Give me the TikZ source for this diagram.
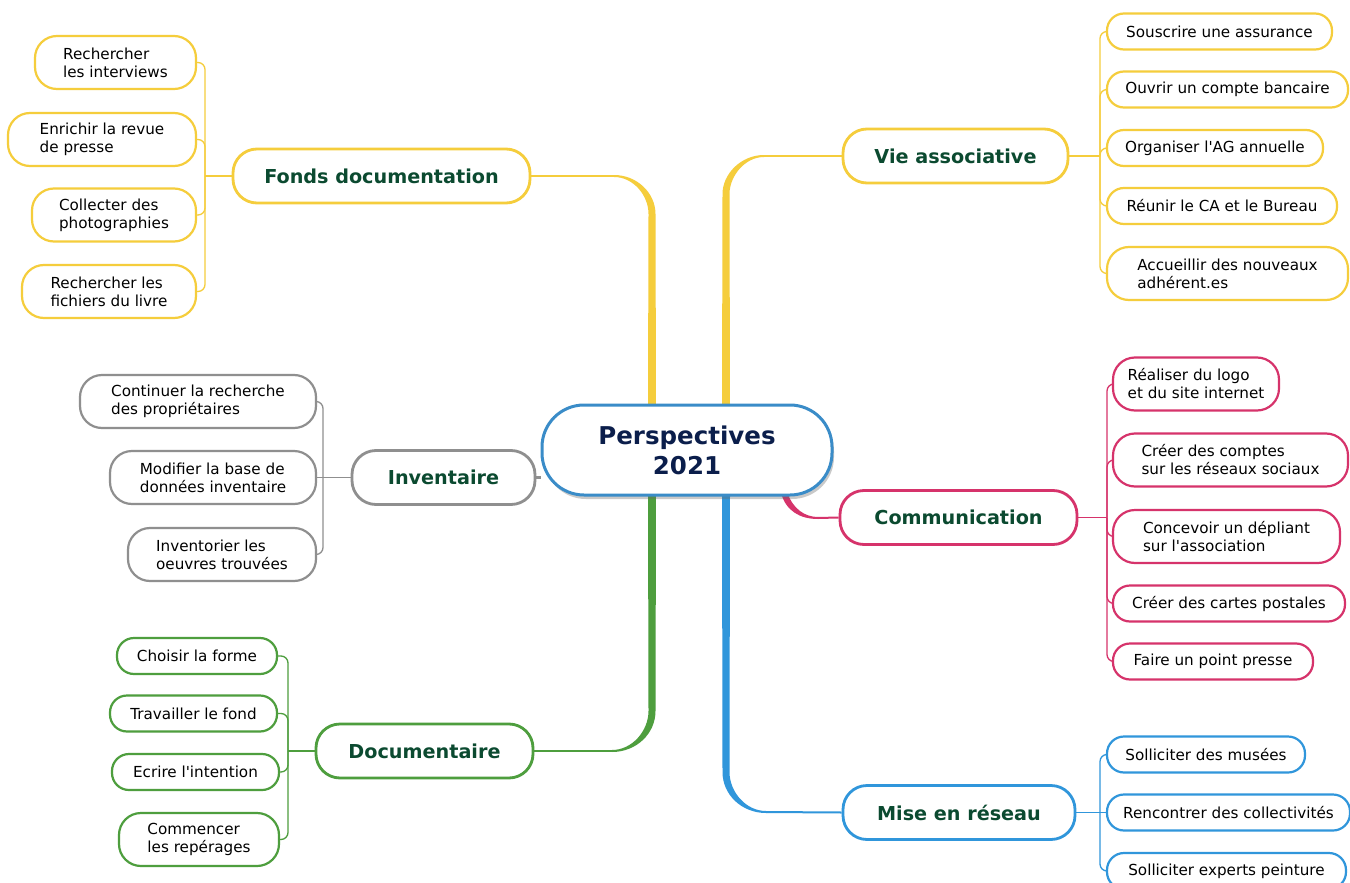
\documentclass[tikz,border=0pt]{standalone}
\usepackage{fontspec}
\setmainfont{DejaVu Sans}
\usetikzlibrary{shadows,backgrounds}
\definecolor{cyel}{HTML}{F5CD3C}
\definecolor{cgray}{HTML}{8F8F8F}
\definecolor{ccrim}{HTML}{D6336B}
\definecolor{cgreen}{HTML}{4E9E3E}
\definecolor{cblue}{HTML}{3096DB}
\definecolor{ccenter}{HTML}{3A8CC8}
\definecolor{ctopic}{HTML}{0B4A30}
\definecolor{cnavy}{HTML}{0B1E4B}
\begin{document}
\begin{tikzpicture}[x=1pt,y=-1pt,
  leaf/.style={draw, fill=white, line width=2.2pt, rounded corners=17pt, minimum height=36pt, inner sep=0pt, font=\fontsize{15.2}{18}\selectfont, align=center},
  leaftwo/.style={leaf, minimum height=53pt, rounded corners=22pt, align=left},
  topic/.style={draw, fill=white, line width=2.8pt, rounded corners=24pt, minimum height=54pt, inner sep=0pt, font=\fontsize{19.2}{22}\selectfont\bfseries, text=ctopic},
  twig/.style={line width=1.3pt, rounded corners=7pt},
  stem/.style={line width=2pt},
]
\useasboundingbox (0,0) rectangle (1350,883);

% centre
\node[draw=ccenter, fill=white, line width=3pt, rounded corners=42pt, minimum width=290pt, minimum height=90pt, inner sep=0pt,
  font=\fontsize{24.5}{30}\selectfont\bfseries, text=cnavy, align=center,
  drop shadow={shadow xshift=2pt, shadow yshift=-4pt, opacity=0.35, fill=black!60}] (c) at (687,450) {Perspectives\\2021};

% topics
\node[topic, draw=cyel, minimum width=297pt] (fonds) at (381.5,176) {Fonds documentation};
\node[topic, draw=cyel, minimum width=225pt] (vie) at (955.5,156) {Vie associative};
\node[topic, draw=cgray, minimum width=183pt] (inv) at (443.5,477.5) {Inventaire};
\node[topic, draw=ccrim, minimum width=237pt] (comm) at (958.5,517.5) {Communication};
\node[topic, draw=cgreen, minimum width=217pt] (doc) at (424.5,751) {Documentaire};
\node[topic, draw=cblue, minimum width=232pt] (mise) at (959,812.5) {Mise en réseau};

% Fonds documentation leaves
\node[leaftwo, draw=cyel, minimum width=161pt] (f1) at (115.5,62.5) {Rechercher\\les interviews};
\node[leaftwo, draw=cyel, minimum width=188pt] (f2) at (102,139.5) {Enrichir la revue\\de presse};
\node[leaftwo, draw=cyel, minimum width=164pt] (f3) at (114,215) {Collecter des\\photographies};
\node[leaftwo, draw=cyel, minimum width=174pt] (f4) at (109,291.5) {Rechercher les\\fichiers du livre};

% Vie associative leaves
\node[leaf, draw=cyel, minimum width=225pt] (v1) at (1219.5,31.5) {Souscrire une assurance};
\node[leaf, draw=cyel, minimum width=241pt] (v2) at (1227.5,89.5) {Ouvrir un compte bancaire};
\node[leaf, draw=cyel, minimum width=216pt] (v3) at (1215,148) {Organiser l\textquotesingle AG annuelle};
\node[leaf, draw=cyel, minimum width=230pt] (v4) at (1222,206) {Réunir le CA et le Bureau};
\node[leaftwo, draw=cyel, minimum width=241pt] (v5) at (1227.5,273.5) {Accueillir des nouveaux\\adhérent.es};

% Inventaire leaves
\node[leaftwo, draw=cgray, minimum width=236pt] (i1) at (198,401.5) {Continuer la recherche\\des propriétaires};
\node[leaftwo, draw=cgray, minimum width=206pt] (i2) at (213,477.5) {Modifier la base de\\données inventaire};
\node[leaftwo, draw=cgray, minimum width=188pt] (i3) at (222,554.5) {Inventorier les\\oeuvres trouvées};

% Communication leaves
\node[leaftwo, draw=ccrim, minimum width=166pt] (c1) at (1196,384) {Réaliser du logo\\et du site internet};
\node[leaftwo, draw=ccrim, minimum width=235pt] (c2) at (1230.5,460) {Créer des comptes\\sur les réseaux sociaux};
\node[leaftwo, draw=ccrim, minimum width=227pt] (c3) at (1226.5,536.5) {Concevoir un dépliant\\sur l\textquotesingle association};
\node[leaf, draw=ccrim, minimum width=232pt] (c4) at (1229,603.5) {Créer des cartes postales};
\node[leaf, draw=ccrim, minimum width=200pt] (c5) at (1213,661.5) {Faire un point presse};

% Documentaire leaves
\node[leaf, draw=cgreen, minimum width=160pt] (d1) at (197,656) {Choisir la forme};
\node[leaf, draw=cgreen, minimum width=167pt] (d2) at (193.5,713.5) {Travailler le fond};
\node[leaf, draw=cgreen, minimum width=167pt] (d3) at (195.5,772) {Ecrire l\textquotesingle intention};
\node[leaftwo, draw=cgreen, minimum width=160pt] (d4) at (199,839.5) {Commencer\\les repérages};

% Mise en reseau leaves
\node[leaf, draw=cblue, minimum width=198pt] (m1) at (1206,754.5) {Solliciter des musées};
\node[leaf, draw=cblue, minimum width=243pt] (m2) at (1228.5,812.5) {Rencontrer des collectivités};
\node[leaf, draw=cblue, minimum width=239pt] (m3) at (1226.5,871) {Solliciter experts peinture};

% trunk points
\coordinate (tF) at (205,176);
\coordinate (tV) at (1100,156);
\coordinate (tI) at (323,477.5);
\coordinate (tC) at (1107,517.5);
\coordinate (tD) at (288,751);
\coordinate (tM) at (1100,812.5);
% where the thin stems meet the tapered branches
\coordinate (sYL) at (614,176);
\coordinate (sYR) at (764,156);
\coordinate (sGL) at (612,751);
\coordinate (sBR) at (766,812);
\coordinate (sCR) at (818,518);

\begin{pgfonlayer}{background}
\fill[white] (0,0) rectangle (1350,883);
% thin stems from topics
\draw[stem, cyel] (fonds.east) -- (sYL);
\draw[stem, cyel] (vie.west) -- (sYR);
\draw[stem, cgreen] (doc.east) -- (sGL);
\draw[stem, cblue] (mise.west) -- (sBR);
\draw[stem, ccrim] (comm.west) -- (sCR);
\draw[line width=2.2pt, cgray] (inv.east) -- (c.west |- inv.east);
% tapered branches into the centre
\fill[cyel] (614,175) .. controls (637,175) and (655.5,193) .. (655.5,214) -- (656,407) -- (648,407) -- (648.5,214) .. controls (648.5,195) and (633,177) .. (614,177) -- cycle;
\fill[cyel] (764,155) .. controls (741,155) and (722.5,174) .. (722.5,194) -- (722,407) -- (730,407) -- (729.5,194) .. controls (729.5,176) and (745,157) .. (764,157) -- cycle;
\fill[cgreen] (648,493) -- (656,493) -- (655.5,711) .. controls (655.5,734) and (636,752) .. (612,752) -- (612,750) .. controls (632,750) and (648.5,731) .. (648.5,711) -- cycle;
\fill[cblue] (730,493) -- (722,493) -- (722.5,772) .. controls (722.5,795) and (742,813) .. (766,813) -- (766,811) .. controls (746,811) and (729.5,792) .. (729.5,772) -- cycle;
\fill[ccrim] (781,493) .. controls (786,511) and (800,519) .. (818,519) -- (818,517) .. controls (805,517) and (793,509) .. (787.5,493) -- cycle;
% Fonds documentation
\draw[twig, cyel] (fonds.west) -- (tF);
\foreach \n in {f1,f2,f3,f4} \draw[twig, cyel] (tF) |- (\n.east);
% Vie associative
\draw[twig, cyel] (vie.east) -- (tV);
\foreach \n in {v1,v2,v3,v4,v5} \draw[twig, cyel] (tV) |- (\n.west);
% Inventaire
\draw[twig, cgray] (inv.west) -- (tI);
\draw[twig, cgray] (tI) -- (i2.east);
\foreach \n in {i1,i3} \draw[twig, cgray] (tI) |- (\n.east);
% Communication
\draw[twig, ccrim] (comm.east) -- (tC);
\foreach \n in {c1,c2,c3,c4,c5} \draw[twig, ccrim] (tC) |- (\n.west);
% Documentaire
\draw[twig, cgreen] (doc.west) -- (tD);
\foreach \n in {d1,d2,d3,d4} \draw[twig, cgreen] (tD) |- (\n.east);
% Mise en reseau
\draw[twig, cblue] (mise.east) -- (tM);
\draw[twig, cblue] (tM) -- (m2.west);
\foreach \n in {m1,m3} \draw[twig, cblue] (tM) |- (\n.west);
\end{pgfonlayer}
\end{tikzpicture}
\end{document}
